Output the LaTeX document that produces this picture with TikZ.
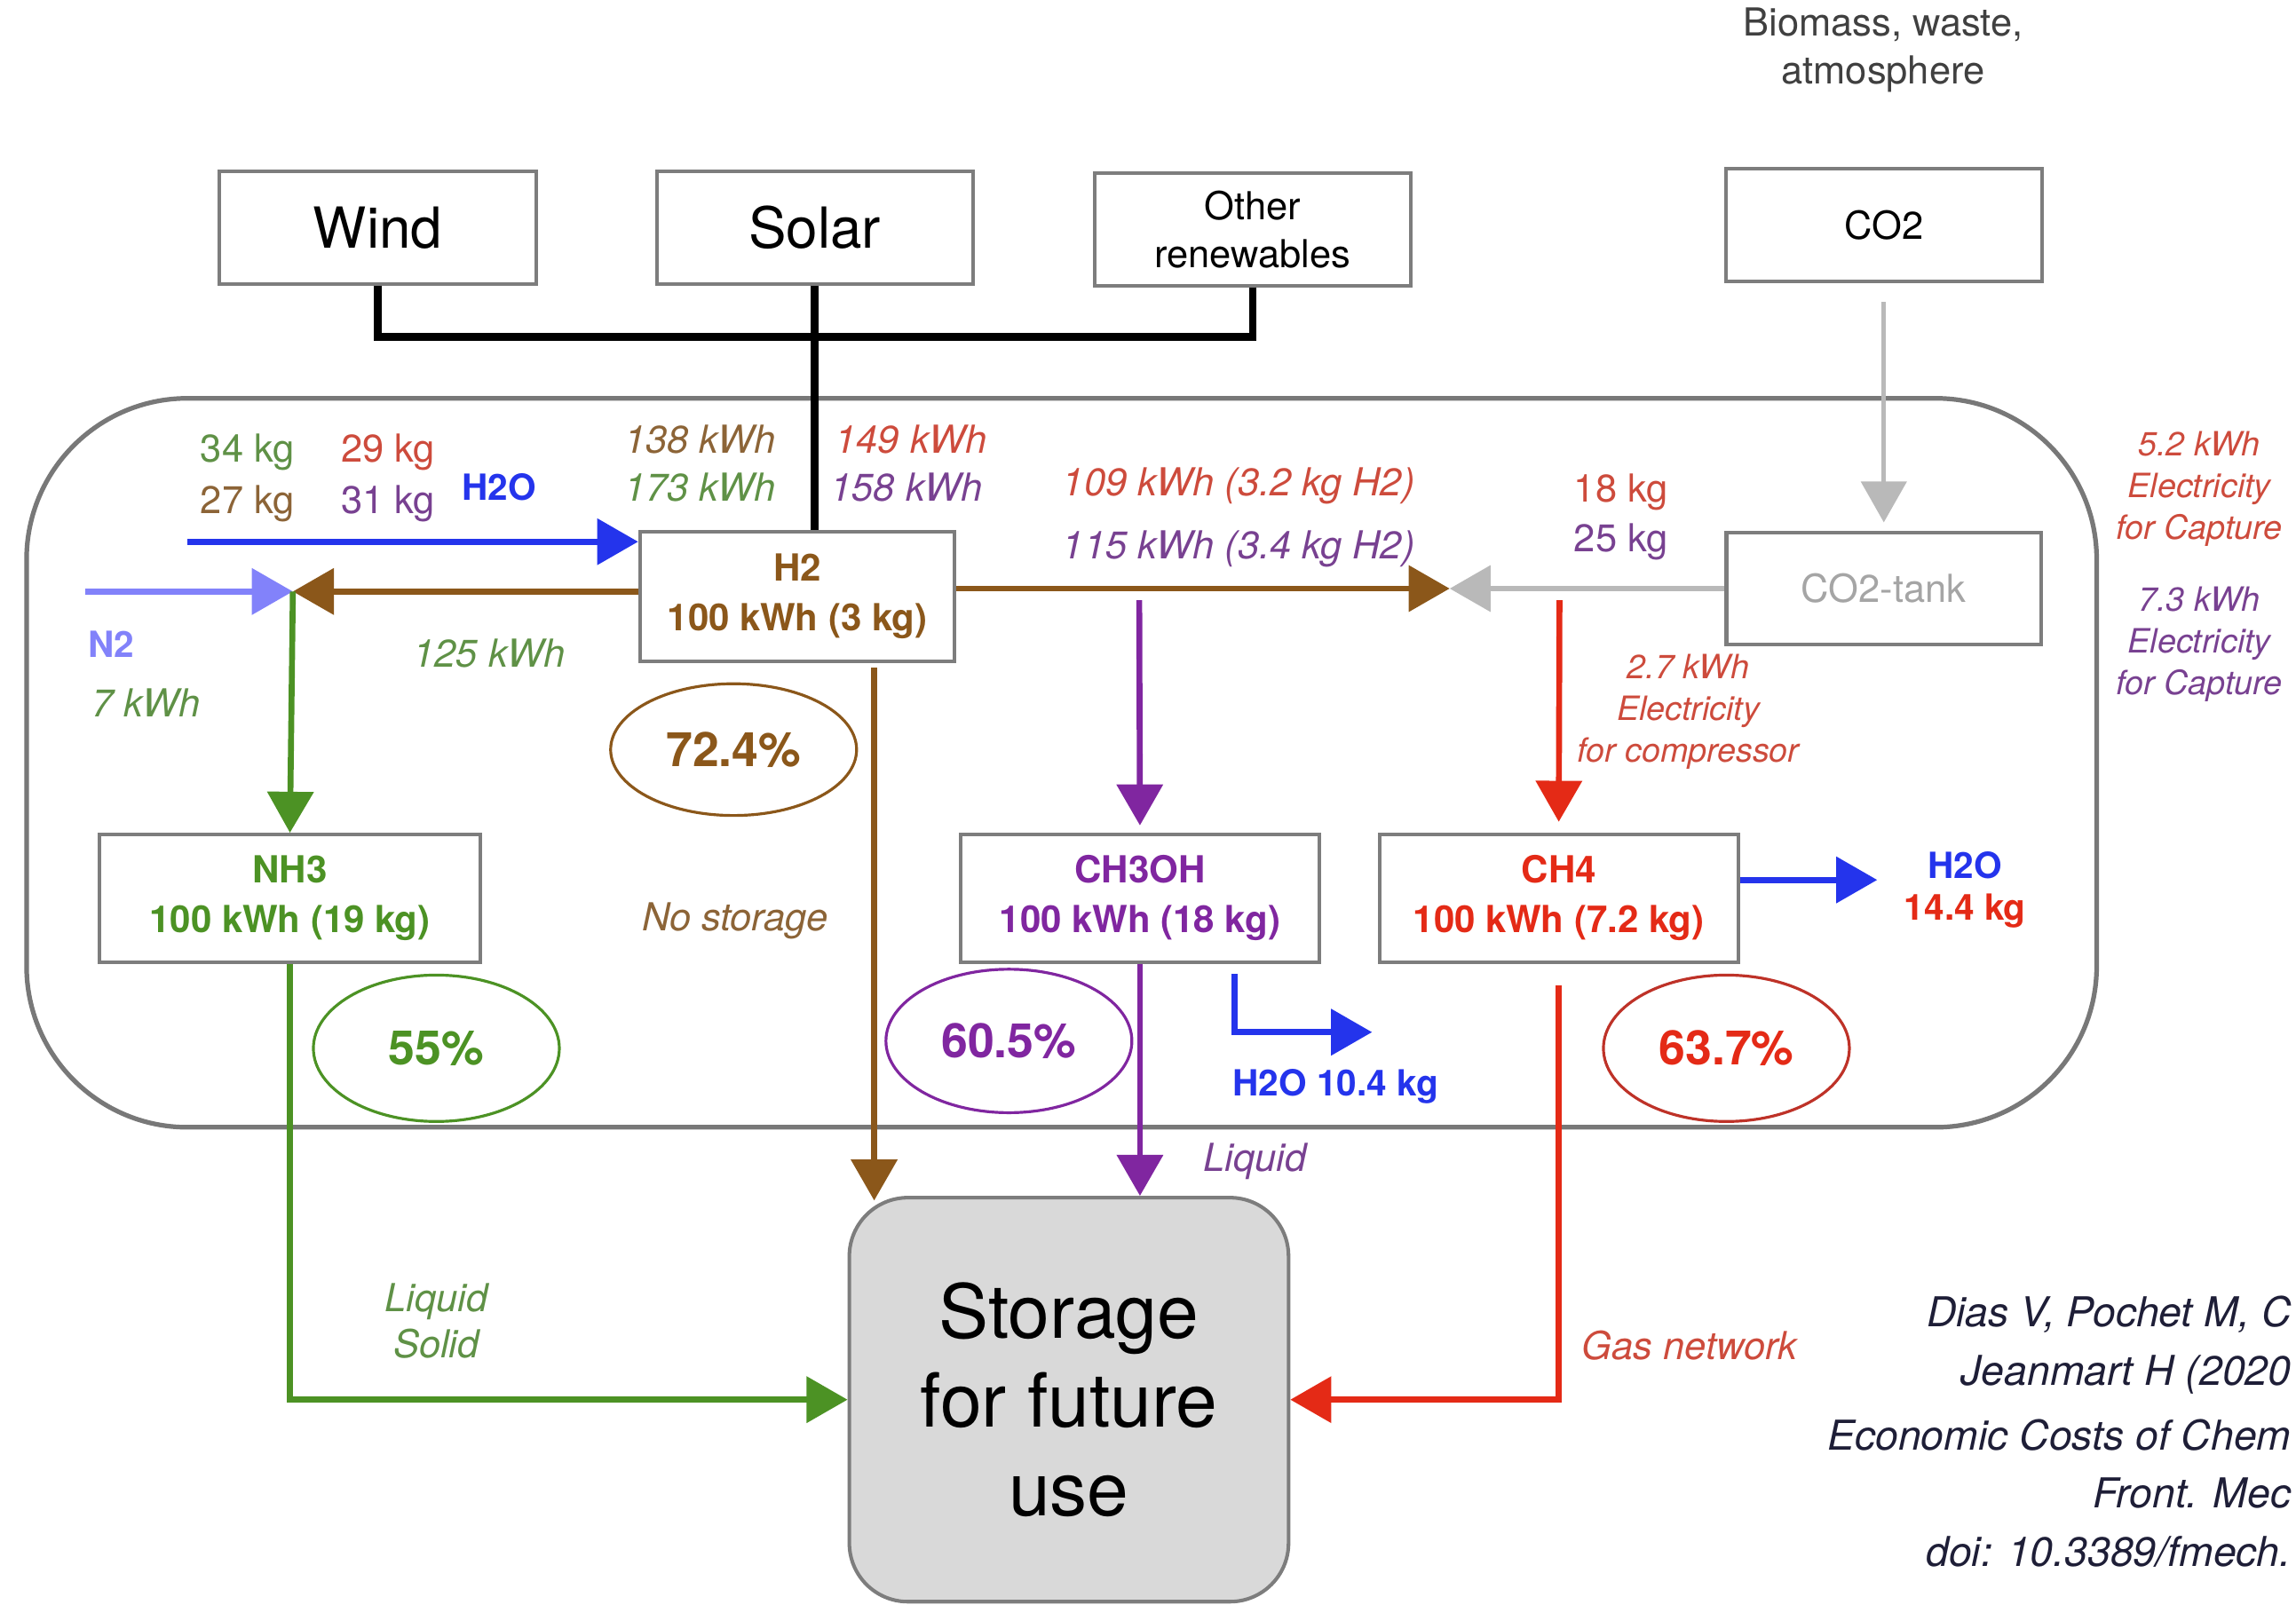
\documentclass[tikz,border=0pt]{standalone}
\usepackage{fontspec}
\setmainfont{TeX Gyre Heros}
\usetikzlibrary{arrows.meta,shapes.geometric}
\definecolor{cbrown}{RGB}{139,87,26}
\definecolor{cgreen}{RGB}{76,146,36}
\definecolor{cpurple}{RGB}{128,38,160}
\definecolor{cred}{RGB}{228,42,22}
\definecolor{cblue}{RGB}{36,52,236}
\definecolor{clblue}{RGB}{130,130,250}
\definecolor{cgray}{RGB}{185,185,185}
\definecolor{tbrown}{RGB}{140,100,55}
\definecolor{tgreen}{RGB}{95,145,70}
\definecolor{tred}{RGB}{205,75,60}
\definecolor{tpurple}{RGB}{120,65,145}
\definecolor{boxgray}{RGB}{125,125,125}
\definecolor{framegray}{RGB}{120,120,120}
\definecolor{tankgray}{RGB}{165,165,165}
\definecolor{storefill}{RGB}{217,217,217}
\definecolor{citec}{RGB}{30,30,55}
\definecolor{ered}{RGB}{190,50,40}
\begin{document}
\begin{tikzpicture}[x=0.02cm,y=-0.02cm,
  every node/.style={inner sep=0pt},
  box/.style={draw=boxgray, line width=1.4pt, fill=white, inner sep=0pt},
  srcbox/.style={box, minimum width=4.32cm, minimum height=1.54cm},
  prodbox/.style={box, minimum height=1.74cm, align=center, font=\fontsize{14.5}{19.3}\selectfont\bfseries},
  flow/.style={line width=2.3pt, -{Triangle[length=0.56cm,width=0.62cm]}},
  blk/.style={line width=3pt, black},
  pct/.style={ellipse, draw, line width=1.1pt, minimum width=3.36cm, font=\fontsize{18.5}{22}\selectfont\bfseries},
  lbl/.style={font=\fontsize{15}{18}\selectfont},
  blbl/.style={font=\fontsize{14}{18}\selectfont\bfseries},
  ilbl/.style={font=\fontsize{15}{18}\selectfont\itshape, align=center},
  note/.style={font=\fontsize{13}{16.2}\selectfont\itshape, align=center},
  mid/.style={font=\fontsize{15}{18.6}\selectfont, align=center},
  big/.style={font=\fontsize{22}{26}\selectfont},
  cite/.style={font=\fontsize{16}{20}\selectfont\itshape, anchor=east, text=citec},
]
\useasboundingbox (0,0) rectangle (1568,1096);
\clip (0,0) rectangle (1568,1096);

% container
\node[draw=framegray, line width=1.8pt, rounded corners=2.2cm, minimum width=28.28cm, minimum height=9.96cm] (plant) at (725,521) {};

% sources
\node[srcbox, big] (wind) at (258,155.5) {Wind};
\node[srcbox, big] (solar) at (556.5,155.5) {Solar};
\node[srcbox, mid] (other) at (855.5,157) {Other\\renewables};
\node[srcbox, mid] (co2) at (1286.5,153.5) {CO2};
\node[mid, text=black!75] (biomass) at (1286,34) {Biomass, waste,\\atmosphere};

% main boxes
\node[box, minimum width=4.3cm, minimum height=1.78cm, align=center, font=\fontsize{14.5}{19.3}\selectfont\bfseries, text=cbrown] (h2) at (544.5,407.5) {H2\\100 kWh (3 kg)};
\node[box, minimum width=4.3cm, minimum height=1.52cm, mid, text=tankgray] (tank) at (1286.5,402) {CO2-tank};
\node[prodbox, minimum width=5.2cm, text=cgreen] (nh3) at (198,613.5) {NH3\\100 kWh (19 kg)};
\node[prodbox, minimum width=4.9cm, text=cpurple] (ch3oh) at (778.5,613.5) {CH3OH\\100 kWh (18 kg)};
\node[prodbox, minimum width=4.9cm, text=cred] (ch4) at (1064.5,613.5) {CH4\\100 kWh (7.2 kg)};
\node[draw=boxgray, line width=1.4pt, fill=storefill, rounded corners=0.8cm, minimum width=6cm, minimum height=5.52cm, align=center, font=\fontsize{29}{34.6}\selectfont] (storage) at (730,956) {Storage\\for future\\use};

% efficiencies
\node[pct, draw=cbrown, text=cbrown, minimum height=1.8cm] (e724) at (501,512) {72.4\%};
\node[pct, draw=cgreen, text=cgreen, minimum height=2cm] (e55) at (298,716) {55\%};
\node[pct, draw=cpurple, text=cpurple, minimum height=1.96cm] (e605) at (689,711) {60.5\%};
\node[pct, draw=ered, text=cred, minimum height=2cm] (e637) at (1179,716) {63.7\%};

% coordinates
\coordinate (bus) at (557,230);
\coordinate (h2in) at (128,370);
\coordinate (nh3j) at (200,404);
\coordinate (n2in) at (58,404);
\coordinate (meet) at (990,402);
\coordinate (pj) at (778,410);
\coordinate (rj) at (1065,410);
\coordinate (h2oout) at (1282,601);
\coordinate (bdown) at (597,820);
\coordinate (e1) at (843,665);
\coordinate (e2) at (937,705);

% connectors
\draw[blk] (wind.south) |- (bus) -| (other.south);
\draw[blk] (solar.south) -- (solar.south |- h2.north);
\draw[flow, cgray, line width=1.6pt, shorten <=0.26cm, shorten >=0.12cm] (co2.south) -- (tank.north);
\draw[flow, cblue] (h2in) -- (h2in -| h2.west);
\draw[flow, cbrown] (h2.west |- nh3j) -- (nh3j);
\draw[flow, clblue] (n2in) -- (nh3j);
\draw[flow, cgreen] (nh3j) -- (nh3.north);
\draw[flow, cgreen] (nh3.south) |- (storage.west);
\draw[flow, cbrown] (h2.east |- meet) -- (meet);
\draw[flow, cgray] (tank.west) -- (meet);
\draw[flow, cpurple, shorten >=0.1cm] (pj) -- (ch3oh.north);
\draw[flow, cred, shorten >=0.15cm] (rj) -- (ch4.north);
\draw[flow, cblue] (ch4.east |- h2oout) -- (h2oout);
\draw[flow, cbrown, shorten <=0.06cm] (h2.south -| bdown) -- (bdown);
\draw[flow, cpurple] (ch3oh.south) -- (ch3oh.south |- storage.north);
\draw[flow, cblue] (e1) |- (e2);
\draw[flow, cred, shorten <=0.3cm] (ch4.south) |- (storage.east);

% labels
\node[lbl, text=tgreen] (l34) at (169,309) {34 kg};
\node[lbl, text=tred] (l29) at (265,309) {29 kg};
\node[lbl, text=tbrown] (l27) at (169,344) {27 kg};
\node[lbl, text=tpurple] (l31) at (265,344) {31 kg};
\node[blbl, text=cblue] (lh2oa) at (341,333) {H2O};
\node[ilbl, text=tbrown] (l138) at (478,300) {138 kWh};
\node[ilbl, text=tgreen] (l173) at (478,333) {173 kWh};
\node[ilbl, text=tred] (l149) at (622,300) {149 kWh};
\node[ilbl, text=tpurple] (l158) at (619,333) {158 kWh};
\node[ilbl, text=tred] (l109) at (846,332) {109 kWh (3.2 kg H2)};
\node[ilbl, text=tpurple] (l115) at (846,375) {115 kWh (3.4 kg H2)};
\node[lbl, text=tred] (l18) at (1107,336) {18 kg};
\node[lbl, text=tpurple] (l25) at (1107,370) {25 kg};
\node[ilbl, text=tgreen] (l125) at (334,446) {125 kWh};
\node[blbl, text=clblue] (ln2) at (76,440) {N2};
\node[ilbl, text=tgreen] (l7) at (100,480) {7 kWh};
\node[note, text=tred] (lcomp) at (1153,486) {2.7 kWh\\Electricity\\for compressor};
\node[note, text=tred] (lcap1) at (1502,334) {5.2 kWh\\Electricity\\for Capture};
\node[note, text=tpurple] (lcap2) at (1502,440) {7.3 kWh\\Electricity\\for Capture};
\node[blbl, text=cblue] (lh2ob) at (1342,591) {H2O};
\node[blbl, text=cred] (l144) at (1342,622) {14.4 kg};
\node[ilbl, text=tbrown] (lnost) at (502,629) {No storage};
\node[blbl, text=cblue] (lh2oc) at (912,742) {H2O 10.4 kg};
\node[ilbl, text=tpurple] (lliq) at (857,793) {Liquid};
\node[ilbl, text=tgreen] (lls) at (298,902) {Liquid\\Solid};
\node[ilbl, text=tred] (lgas) at (1154,919) {Gas network};

% citation (as far as the reference shows it)
\node[cite] (c1) at (1565,898) {Dias V, Pochet M, C};
\node[cite] (c2) at (1565,939) {Jeanmart H (2020};
\node[cite] (c3) at (1565,980) {Economic Costs of Chem};
\node[cite] (c4) at (1565,1020) {Front. Mec};
\node[cite] (c5) at (1565,1060) {doi: 10.3389/fmech.};
\end{tikzpicture}
\end{document}
